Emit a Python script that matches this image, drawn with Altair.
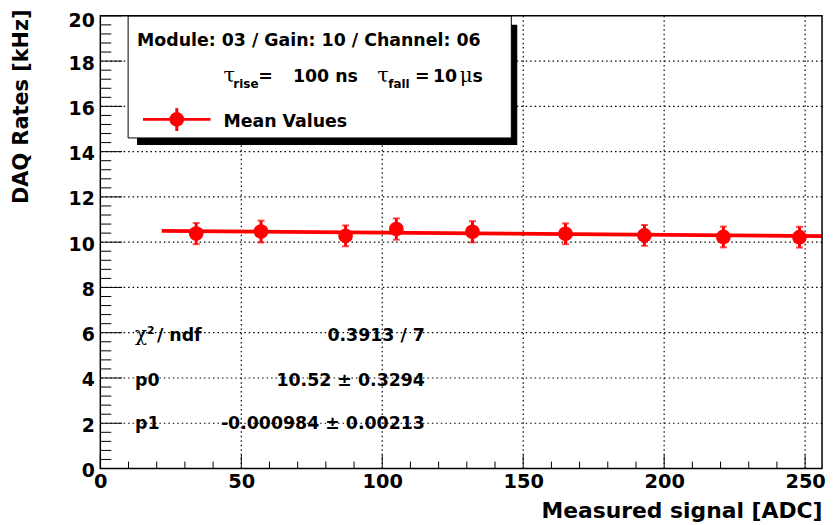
import altair as alt
import pandas as pd

# ---- data ----
adc = [34, 57, 87, 105, 132, 165, 193, 221, 248]
rate = [10.38, 10.47, 10.28, 10.58, 10.46, 10.37, 10.30, 10.23, 10.22]
err = [0.47, 0.48, 0.46, 0.47, 0.47, 0.46, 0.46, 0.46, 0.46]
fit_p0 = 10.52
fit_p1 = -0.000984
fit_x = [21.8, 256]
x_major = [0, 50, 100, 150, 200, 250]
x_minor = [v for v in range(0, 257, 10) if v % 50]
y_major = list(range(0, 21, 2))
y_minor = [round(i * 0.4, 1) for i in range(51) if i % 5]
x_grid = [50, 100, 150, 200, 250]
y_grid = list(range(2, 19, 2))
stat_names = ["p0", "p1"]
stat_values = ["0.3913 / 7", "10.52 \u00b1 0.3294", "-0.000984 \u00b1 0.00213"]

W, H = 727, 456
FONT = "DejaVu Sans"
SERIF = "DejaVu Serif"
RED = "#ff0000"

xs = alt.Scale(domain=[0, 256], nice=False, zero=False)
ys = alt.Scale(domain=[0, 20], nice=False, zero=False)

xaxis = alt.Axis(values=x_major, format="d", labelFont=FONT, labelFontWeight="bold",
                 labelFontSize=19.5, labelColor="black", labelPadding=4, labelFlush=False,
                 labelOverlap=False, ticks=False, domain=False, grid=False,
                 title="Measured signal [ADC]", titleFont=FONT, titleFontWeight="bold",
                 titleFontSize=22, titleColor="black", titleX=W, titleY=49,
                 titleAlign="right", titleBaseline="alphabetic")
yaxis = alt.Axis(values=y_major, format="d", labelFont=FONT, labelFontWeight="bold",
                 labelFontSize=19, labelColor="black", labelPadding=6, labelFlush=False,
                 labelOffset={"condition": {"test": "datum.value == 20", "value": 4.5}, "value": 2},
                 labelOverlap=False, ticks=False, domain=False, grid=False,
                 title="DAQ Rates [kHz]", titleFont=FONT, titleFontWeight="bold",
                 titleFontSize=21, titleColor="black", titleX=-79, titleY=-7,
                 titleAngle=270, titleAlign="right", titleBaseline="middle")


def X(f):
    return alt.X(f, type="quantitative", scale=xs, axis=xaxis)


def Y(f):
    return alt.Y(f, type="quantitative", scale=ys, axis=yaxis)


one = pd.DataFrame({"_": [0]})
pts = pd.DataFrame({"adc": adc, "rate": rate, "err": err})
fit = pd.DataFrame({"adc": fit_x})

layers = []

# grid
layers.append(alt.Chart(pd.DataFrame({"v": x_grid})).mark_rule(
    color="black", strokeDash=[1.5, 3], strokeWidth=1.2).encode(x=X("v")))
layers.append(alt.Chart(pd.DataFrame({"v": y_grid})).mark_rule(
    color="black", strokeDash=[1.5, 3], strokeWidth=1.2).encode(y=Y("v")))

# fit line
layers.append(alt.Chart(fit).transform_calculate(
    fy=f"{fit_p0} + ({fit_p1}) * datum.adc").mark_line(
    color=RED, strokeWidth=3.8, clip=True).encode(x=X("adc"), y=Y("fy")))

# error bars + caps + points
eb = alt.Chart(pts).transform_calculate(lo="datum.rate - datum.err", hi="datum.rate + datum.err")
layers.append(eb.mark_rule(color=RED, strokeWidth=3).encode(x=X("adc"), y=Y("lo"), y2="hi:Q"))
layers.append(eb.mark_tick(color=RED, orient="horizontal", size=7, thickness=2).encode(x=X("adc"), y=Y("lo")))
layers.append(eb.mark_tick(color=RED, orient="horizontal", size=7, thickness=2).encode(x=X("adc"), y=Y("hi")))
layers.append(alt.Chart(pts).mark_circle(color=RED, size=220, opacity=1).encode(x=X("adc"), y=Y("rate")))

# inward ticks
layers.append(alt.Chart(pd.DataFrame({"v": y_major})).mark_rule(color="black", strokeWidth=1).encode(
    y=Y("v"), x=alt.value(0), x2=alt.value(22)))
layers.append(alt.Chart(pd.DataFrame({"v": y_minor})).mark_rule(color="black", strokeWidth=1).encode(
    y=Y("v"), x=alt.value(0), x2=alt.value(11)))
layers.append(alt.Chart(pd.DataFrame({"v": x_major})).mark_rule(color="black", strokeWidth=1).encode(
    x=X("v"), y=alt.value(H), y2=alt.value(H - 14)))
layers.append(alt.Chart(pd.DataFrame({"v": x_minor})).mark_rule(color="black", strokeWidth=1).encode(
    x=X("v"), y=alt.value(H), y2=alt.value(H - 7)))

# legend box with shadow
layers.append(alt.Chart(one).mark_rect(color="black").encode(
    x=alt.value(37), x2=alt.value(420), y=alt.value(9), y2=alt.value(130)))
layers.append(alt.Chart(one).mark_rect(fill="white", stroke="black", strokeWidth=1).encode(
    x=alt.value(28), x2=alt.value(414), y=alt.value(0), y2=alt.value(123)))


def label(text, x, y, size=17.5, font=FONT, weight="bold", align="left"):
    return alt.Chart(one).mark_text(text=text, font=font, fontSize=size, fontWeight=weight,
                                    align=align, baseline="alphabetic", color="black").encode(
        x=alt.value(x), y=alt.value(y))


layers.append(label("Module: 03 / Gain: 10 / Channel: 06", 37, 30))
layers.append(label("\u03c4", 124, 66.5, size=21, font=SERIF, weight="normal"))
layers.append(label("rise", 134, 73, size=12))
layers.append(label("=", 159, 66.5))
layers.append(label("100 ns", 194, 66.5))
layers.append(label("\u03c4", 279, 66.5, size=21, font=SERIF, weight="normal"))
layers.append(label("fall", 290, 73, size=12))
layers.append(label("=", 317, 66.5))
layers.append(label("10", 335, 66.5))
layers.append(label("\u03bc", 362, 66.5, size=20, font=SERIF, weight="normal"))
layers.append(label("s", 375, 66.5))
layers.append(label("Mean Values", 124, 111.5))

# legend marker
layers.append(alt.Chart(one).mark_rule(color=RED, strokeWidth=3).encode(
    x=alt.value(43), x2=alt.value(111), y=alt.value(104.3)))
layers.append(alt.Chart(one).mark_rule(color=RED, strokeWidth=3).encode(
    x=alt.value(77), y=alt.value(93), y2=alt.value(116)))
layers.append(alt.Chart(one).mark_circle(color=RED, size=220, opacity=1).encode(
    x=alt.value(77), y=alt.value(104.3)))

# fit statistics
layers.append(label("\u03c7", 35, 328, size=20, font=SERIF, weight="normal"))
layers.append(label("2", 47, 320, size=11))
layers.append(label("/ ndf", 57, 328))
layers.append(label(stat_names[0], 35, 373))
layers.append(label(stat_names[1], 35, 416))
layers.append(label(stat_values[0], 327, 328, align="right"))
layers.append(label(stat_values[1], 327, 373, align="right"))
layers.append(label(stat_values[2], 327, 416, align="right"))

# frame
layers.append(alt.Chart(one).mark_rect(filled=False, stroke="black", strokeWidth=1.5).encode(
    x=alt.value(0), x2=alt.value(W), y=alt.value(0), y2=alt.value(H)))

chart = alt.layer(*layers).properties(
    width=W, height=H,
    autosize=alt.AutoSizeParams(type="none"),
    padding={"left": 93, "top": 6, "right": 5, "bottom": 55},
).configure_view(strokeWidth=0)

chart.save("out.html", embed_options={"renderer": "svg", "actions": False})
